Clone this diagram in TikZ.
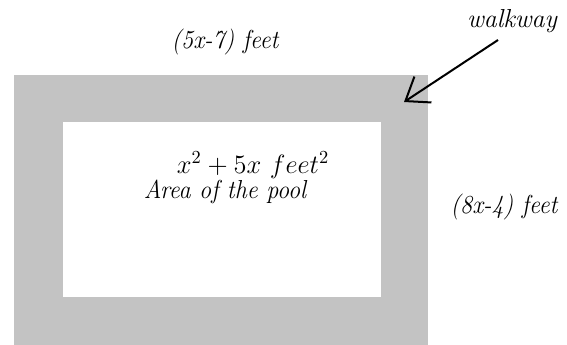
\documentclass[tikz,border=0pt]{standalone}
\usetikzlibrary{arrows.meta}
\begin{document}
\begin{tikzpicture}[x=1pt,y=-1pt,
  lbl/.style={font=\fontsize{26}{28}\selectfont\itshape, inner sep=0pt, anchor=center, xscale=0.93},
  walk/.style={fill={rgb,255:red,195;green,195;blue,195}, draw=none},
  pool/.style={fill=white, draw=none}]
\useasboundingbox (0,0) rectangle (567,345);
\fill[white] (0,0) rectangle (567,345);
\path[walk] (14,75) rectangle (428,345);
\path[pool] (63,122) rectangle (381,297);
\node[lbl] (top) at (225,42) {(5x-7) feet};
\node[lbl, xscale=1.07] (walkway) at (512,21) {walkway};
\node[lbl] (side) at (504,207) {(8x-4) feet};
\node[inner sep=0pt, font=\Large, scale=1.84] (area) at (253,165) {$x^2+5x\ feet^2$};
\node[lbl] (name) at (225,192) {Area of the pool};
\coordinate (tail) at (498,40);
\coordinate (tip) at (404,102);
\draw[line width=2pt, -{Straight Barb[length=21pt,width=31pt,line width=2pt]}] (tail) -- (tip);
\end{tikzpicture}
\end{document}
